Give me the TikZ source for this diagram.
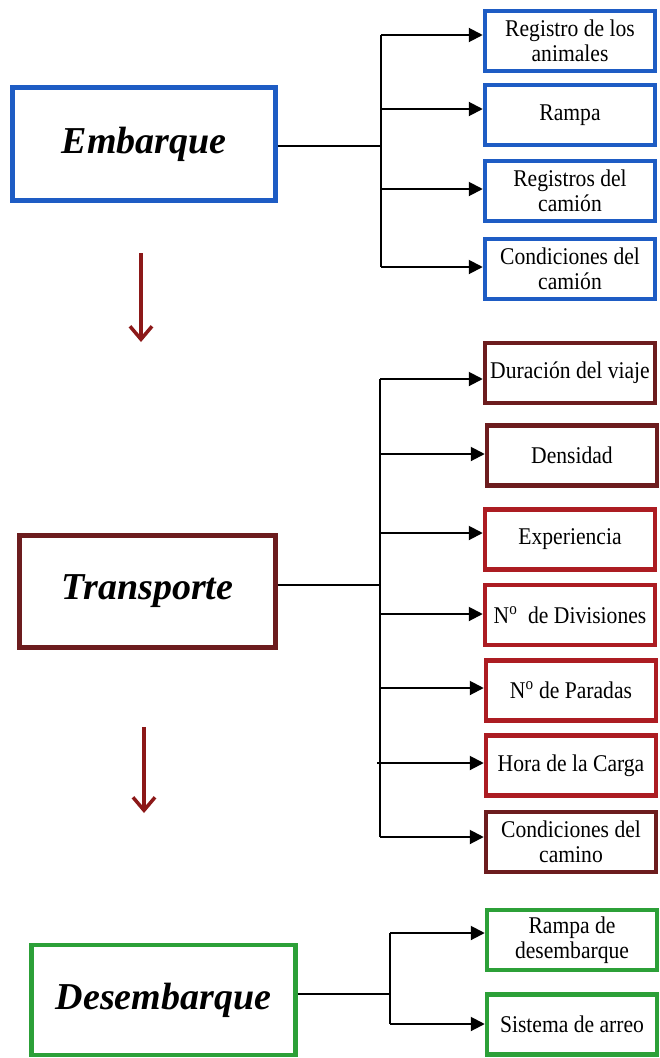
\documentclass[tikz,border=0pt]{standalone}
\usepackage{fontspec}
\setmainfont{Liberation Serif}
\newfontfamily\subfont[FakeStretch=0.9]{Liberation Serif}
\usetikzlibrary{arrows.meta}
\definecolor{cblue}{RGB}{30,92,196}
\definecolor{cmaroon}{RGB}{108,28,30}
\definecolor{cred}{RGB}{172,28,34}
\definecolor{cgreen}{RGB}{44,160,56}
\definecolor{cdown}{RGB}{140,24,24}
\begin{document}
\begin{tikzpicture}[x=1pt,y=-1pt,
  mainbox/.style={draw,line width=4.5pt,fill=white,inner sep=0pt,
    font=\fontsize{38}{40}\selectfont\bfseries\itshape},
  subbox/.style={draw,line width=4.5pt,fill=white,inner sep=0pt,align=center,
    minimum width=170pt,minimum height=60pt,
    font=\subfont\fontsize{24}{25}\selectfont},
  conn/.style={line width=2pt,black},
  arr/.style={conn,-{Triangle[length=14pt,width=14pt]}},
  downarr/.style={line width=3.5pt,cdown,-{Straight Barb[length=13pt,width=22pt,line width=3.5pt]}}
]
\useasboundingbox (0,0) rectangle (659,1058);
\fill[white] (0,0) rectangle (659,1058);

% ---------- Embarque ----------
\node[mainbox,draw=cblue,minimum width=263pt,minimum height=113pt] (emb) at (144,144) {Embarque};
\node[subbox,draw=cblue] (e1) at (570,41) {Registro de los\\animales};
\node[subbox,draw=cblue] (e2) at (570,115) {Rampa};
\node[subbox,draw=cblue] (e3) at (570,191) {Registros del\\camión};
\node[subbox,draw=cblue] (e4) at (570,269) {Condiciones del\\camión};
\coordinate (ej) at (381,146);
\coordinate (ev1) at (381,35);
\coordinate (ev2) at (381,109);
\coordinate (ev3) at (381,189);
\coordinate (ev4) at (381,267);
\draw[conn] (emb.east |- ej) -- (ej);
\draw[conn] (ev1) -- (ev4);
\draw[arr] (ev1) -- (ev1 -| e1.west);
\draw[arr] (ev2) -- (ev2 -| e2.west);
\draw[arr] (ev3) -- (ev3 -| e3.west);
\draw[arr] (ev4) -- (ev4 -| e4.west);

% ---------- Transporte ----------
\node[mainbox,draw=cmaroon,minimum width=256pt,minimum height=112pt] (tra) at (147.5,591.5) {Transporte};
\node[subbox,draw=cmaroon] (t1) at (570,373) {Duración del viaje};
\node[subbox,draw=cmaroon] (t2) at (572,455.5) {Densidad};
\node[subbox,draw=cred] (t3) at (570,539.5) {Experiencia};
\node[subbox,draw=cred] (t4) at (570,615) {N\textsuperscript{o}\ \ de Divisiones};
\node[subbox,draw=cred] (t5) at (571,690.5) {N\textsuperscript{o} de Paradas};
\node[subbox,draw=cred] (t6) at (571,765.5) {Hora de la Carga};
\node[subbox,draw=cmaroon] (t7) at (571,842) {Condiciones del\\camino};
\coordinate (tj) at (380,585);
\coordinate (tv1) at (380,379);
\coordinate (tv2) at (380,454);
\coordinate (tv3) at (380,533);
\coordinate (tv4) at (380,614);
\coordinate (tv5) at (380,688);
\coordinate (tv6) at (377,763);
\coordinate (tv7) at (380,837);
\draw[conn] (tra.east |- tj) -- (tj);
\draw[conn] (tv1) -- (tv7);
\draw[arr] (tv1) -- (tv1 -| t1.west);
\draw[arr] (tv2) -- (tv2 -| t2.west);
\draw[arr] (tv3) -- (tv3 -| t3.west);
\draw[arr] (tv4) -- (tv4 -| t4.west);
\draw[arr] (tv5) -- (tv5 -| t5.west);
\draw[arr] (tv6) -- (tv6 -| t6.west);
\draw[arr] (tv7) -- (tv7 -| t7.west);

% ---------- Desembarque ----------
\node[mainbox,draw=cgreen,minimum width=264pt,minimum height=110pt] (des) at (163.5,1000) {Desembarque};
\node[subbox,draw=cgreen] (d1) at (572,940) {Rampa de\\desembarque};
\node[subbox,draw=cgreen] (d2) at (572,1024.5) {Sistema de arreo};
\coordinate (dj) at (390,994);
\coordinate (dv1) at (390,933);
\coordinate (dv2) at (390,1024);
\draw[conn] (des.east |- dj) -- (dj);
\draw[conn] (dv1) -- (dv2);
\draw[arr] (dv1) -- (dv1 -| d1.west);
\draw[arr] (dv2) -- (dv2 -| d2.west);

% ---------- down arrows ----------
\coordinate (a1s) at (141,253);
\coordinate (a1e) at (141,342);
\coordinate (a2s) at (144,727);
\coordinate (a2e) at (144,813);
\draw[downarr] (a1s) -- (a1e);
\draw[downarr] (a2s) -- (a2e);
\end{tikzpicture}
\end{document}
